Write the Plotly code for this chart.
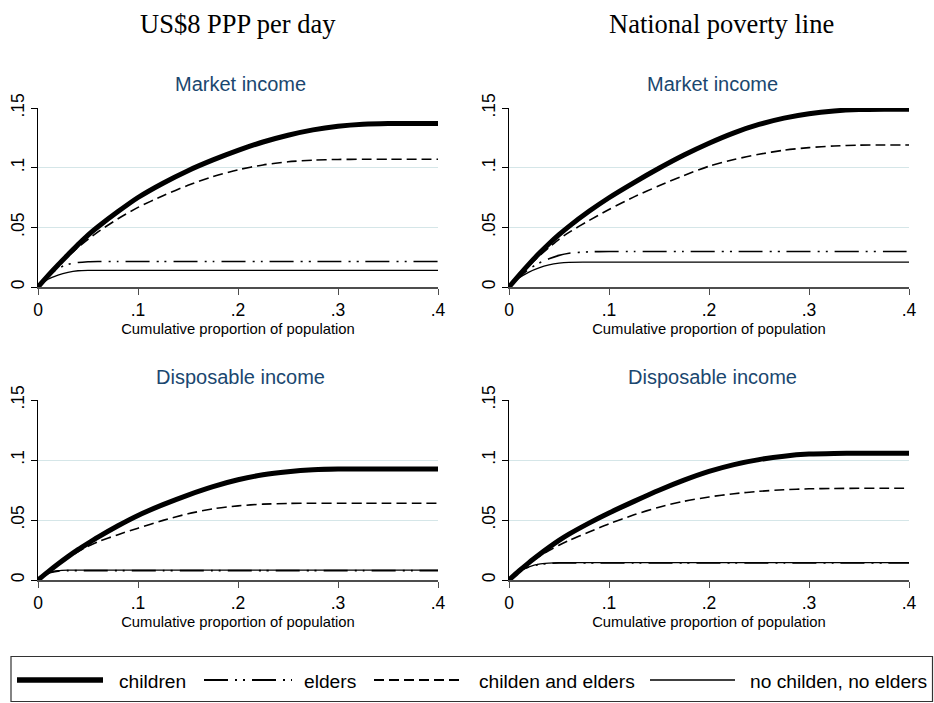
import plotly.graph_objects as go
from plotly.subplots import make_subplots

W, H = 934, 703

# ---------------- data ----------------
x_grid = [0, .01, .02, .03, .04, .05, .06, .08, .10, .125, .15, .175, .20, .225,
          .25, .275, .30, .325, .35, .375, .40]

series_names = ["children", "elders", "childen and elders", "no childen, no elders"]

# US$8 PPP per day - Market income
usd_mkt_children = [0, .0095, .0185, .027, .0355, .0435, .0505, .0632, .075, .087, .0975, .1065, .1145, .1215,
                    .1272, .1317, .1347, .1364, .137, .137, .137]
usd_mkt_elders = [0, .009, .0155, .019, .0205, .0212, .0214, .0214, .0214, .0214, .0214, .0214, .0214, .0214,
                  .0214, .0214, .0214, .0214, .0214, .0214, .0214]
usd_mkt_both = [0, .009, .0178, .0258, .0332, .040, .0462, .0572, .0667, .0765, .0852, .0925, .0982, .1023,
                .1049, .1063, .1069, .107, .107, .107, .107]
usd_mkt_none = [0, .0065, .010, .0123, .0136, .0139, .0139, .0139, .0139, .0139, .0139, .0139, .0139, .0139,
                .0139, .0139, .0139, .0139, .0139, .0139, .0139]

# National poverty line - Market income
nat_mkt_children = [0, .0098, .0192, .028, .0362, .0438, .0508, .0634, .0748, .0875, .0995, .1106, .1205, .1292,
                    .1362, .1415, .1452, .1475, .1487, .149, .149]
nat_mkt_elders = [0, .008, .015, .020, .0236, .0265, .0283, .0295, .0297, .0297, .0297, .0297, .0297, .0297,
                  .0297, .0297, .0297, .0297, .0297, .0297, .0297]
nat_mkt_both = [0, .0092, .0178, .0258, .0332, .040, .0458, .0557, .065, .0755, .0848, .0935, .1012, .1068,
                .1112, .1146, .1168, .1182, .1189, .119, .119]
nat_mkt_none = [0, .0075, .0125, .016, .0185, .020, .0207, .0208, .0208, .0208, .0208, .0208, .0208, .0208,
                .0208, .0208, .0208, .0208, .0208, .0208, .0208]

# US$8 PPP per day - Disposable income
usd_disp_children = [0, .0068, .0133, .0195, .0253, .0306, .0357, .0452, .0538, .0628, .0708, .0778, .0835, .0877,
                     .0903, .0919, .0925, .0925, .0925, .0925, .0925]
usd_disp_elders = [0, .0055, .0074, .0078, .0078, .0078, .0078, .0078, .0078, .0078, .0078, .0078, .0078, .0078,
                   .0078, .0078, .0078, .0078, .0078, .0078, .0078]
usd_disp_both = [0, .0068, .013, .0185, .0235, .028, .0318, .0378, .0432, .0497, .0552, .0593, .0618, .0632,
                 .0638, .064, .064, .064, .064, .064, .064]
usd_disp_none = [0, .0058, .0077, .0082, .0082, .0082, .0082, .0082, .0082, .0082, .0082, .0082, .0082, .0082,
                 .0082, .0082, .0082, .0082, .0082, .0082, .0082]

# National poverty line - Disposable income
nat_disp_children = [0, .0075, .0145, .021, .0272, .033, .0382, .0474, .0558, .0655, .0748, .0832, .0905, .0962,
                     .1003, .1032, .1049, .1055, .1056, .1056, .1056]
nat_disp_elders = [0, .0072, .0108, .013, .0138, .0142, .0142, .0142, .0142, .0142, .0142, .0142, .0142, .0142,
                   .0142, .0142, .0142, .0142, .0142, .0142, .0142]
nat_disp_both = [0, .0072, .014, .0195, .0245, .029, .033, .040, .0468, .0543, .0607, .0656, .0692, .0719,
                 .0739, .0752, .076, .0763, .0764, .0764, .0764]
nat_disp_none = [0, .0075, .011, .0132, .014, .0144, .0145, .0145, .0145, .0145, .0145, .0145, .0145, .0145,
                 .0145, .0145, .0145, .0145, .0145, .0145, .0145]

x_tickvals = [0, .1, .2, .3, .4]
x_ticktext = ["0", ".1", ".2", ".3", ".4"]
y_tickvals = [0, .05, .1, .15]
y_ticktext = ["0", ".05", ".1", ".15"]

column_titles = ["US$8 PPP per day", "National poverty line"]
panel_titles = ["Market income", "Disposable income"]
x_title = "Cumulative proportion of population"

# ---------------- styles ----------------
styles = [
    dict(color="black", width=5, dash="solid"),
    dict(color="black", width=1.6, dash="24px,7px,2px,6px,2px,7px"),
    dict(color="black", width=1.6, dash="10px,5px"),
    dict(color="black", width=1.3, dash="solid"),
]

panels = [
    (1, 1, [usd_mkt_children, usd_mkt_elders, usd_mkt_both, usd_mkt_none]),
    (1, 2, [nat_mkt_children, nat_mkt_elders, nat_mkt_both, nat_mkt_none]),
    (2, 1, [usd_disp_children, usd_disp_elders, usd_disp_both, usd_disp_none]),
    (2, 2, [nat_disp_children, nat_disp_elders, nat_disp_both, nat_disp_none]),
]

fig = make_subplots(rows=2, cols=2)

draw_order = [3, 1, 2, 0]
for r, c, ser in panels:
    for i in draw_order:
        fig.add_trace(go.Scatter(
            x=x_grid, y=ser[i], mode="lines", name=series_names[i],
            line=dict(color=styles[i]["color"], width=styles[i]["width"],
                      dash=styles[i]["dash"], shape="spline", smoothing=0.7),
            showlegend=False, hoverinfo="x+y+name"), row=r, col=c)


def px_x(p):
    return p / W


def px_y(p):
    return 1 - p / H


xdom = {1: [px_x(38), px_x(438)], 2: [px_x(509), px_x(909)]}
ydom = {1: [px_y(287), px_y(108)], 2: [px_y(580), px_y(400)]}

font_sans = "Liberation Sans, Arial, sans-serif"
grid_col = "#d5e6e8"

for r in (1, 2):
    for c in (1, 2):
        fig.update_xaxes(row=r, col=c, domain=xdom[c], range=[0, 0.4], automargin=False,
                         tickmode="array", tickvals=x_tickvals, ticktext=x_ticktext,
                         ticks="outside", ticklen=6, tickwidth=1.3, tickcolor="#4d4d4d",
                         showline=True, linecolor="#4d4d4d", linewidth=1.6,
                         showgrid=False, zeroline=False,
                         tickfont=dict(family=font_sans, size=17.5, color="black"),
                         title=dict(text=x_title, standoff=5,
                                    font=dict(family=font_sans, size=14.8, color="black")))
        fig.update_yaxes(row=r, col=c, domain=ydom[r], range=[0, 0.15], automargin=False,
                         tickmode="array", tickvals=y_tickvals, ticktext=y_ticktext,
                         tickangle=-90,
                         ticks="outside", ticklen=6, tickwidth=1.2, tickcolor="black",
                         showline=True, linecolor="black", linewidth=1.3,
                         showgrid=True, gridcolor=grid_col, gridwidth=1.2, zeroline=False,
                         tickfont=dict(family=font_sans, size=17.5, color="black"))

annotations = []
# column titles
for txt, cx in zip(column_titles, [238, 721]):
    annotations.append(dict(text=txt, x=px_x(cx), y=px_y(24), xref="paper", yref="paper",
                            showarrow=False, xanchor="center", yanchor="middle",
                            font=dict(family="Liberation Serif, Times New Roman, serif", size=26.5,
                                      color="black")))
# panel titles
for ri, txt in enumerate(panel_titles):
    cy = [84, 377][ri]
    for cx in (240, 712):
        annotations.append(dict(text=txt, x=px_x(cx), y=px_y(cy), xref="paper", yref="paper",
                                showarrow=False, xanchor="center", yanchor="middle",
                                font=dict(family=font_sans, size=20, color="#1a476f")))

# legend (manual)
shapes = [dict(type="rect", xref="paper", yref="paper",
               x0=px_x(11), x1=px_x(932.5), y0=px_y(701.5), y1=px_y(656.5),
               line=dict(color="#333333", width=1.2), fillcolor="white", layer="below")]
leg_samples = [(17, 103), (204, 292), (374, 464), (650, 735)]
leg_text_x = [117, 302, 477, 748]
leg_y = 680
for i in range(4):
    x0, x1 = leg_samples[i]
    shapes.append(dict(type="line", xref="paper", yref="paper",
                       x0=px_x(x0), x1=px_x(x1), y0=px_y(leg_y), y1=px_y(leg_y),
                       line=dict(color="black", width=styles[i]["width"] + (0.4 if i == 0 else 0.3),
                                 dash=styles[i]["dash"])))
    annotations.append(dict(text=series_names[i], x=px_x(leg_text_x[i]), y=px_y(leg_y + 1),
                            xref="paper", yref="paper", showarrow=False,
                            xanchor="left", yanchor="middle",
                            font=dict(family=font_sans, size=19.2, color="black")))

fig.update_layout(width=W, height=H, margin=dict(l=0, r=0, t=0, b=0, autoexpand=False),
                  paper_bgcolor="white", plot_bgcolor="white",
                  annotations=annotations, shapes=shapes, showlegend=False)

fig.write_html("out.html")
